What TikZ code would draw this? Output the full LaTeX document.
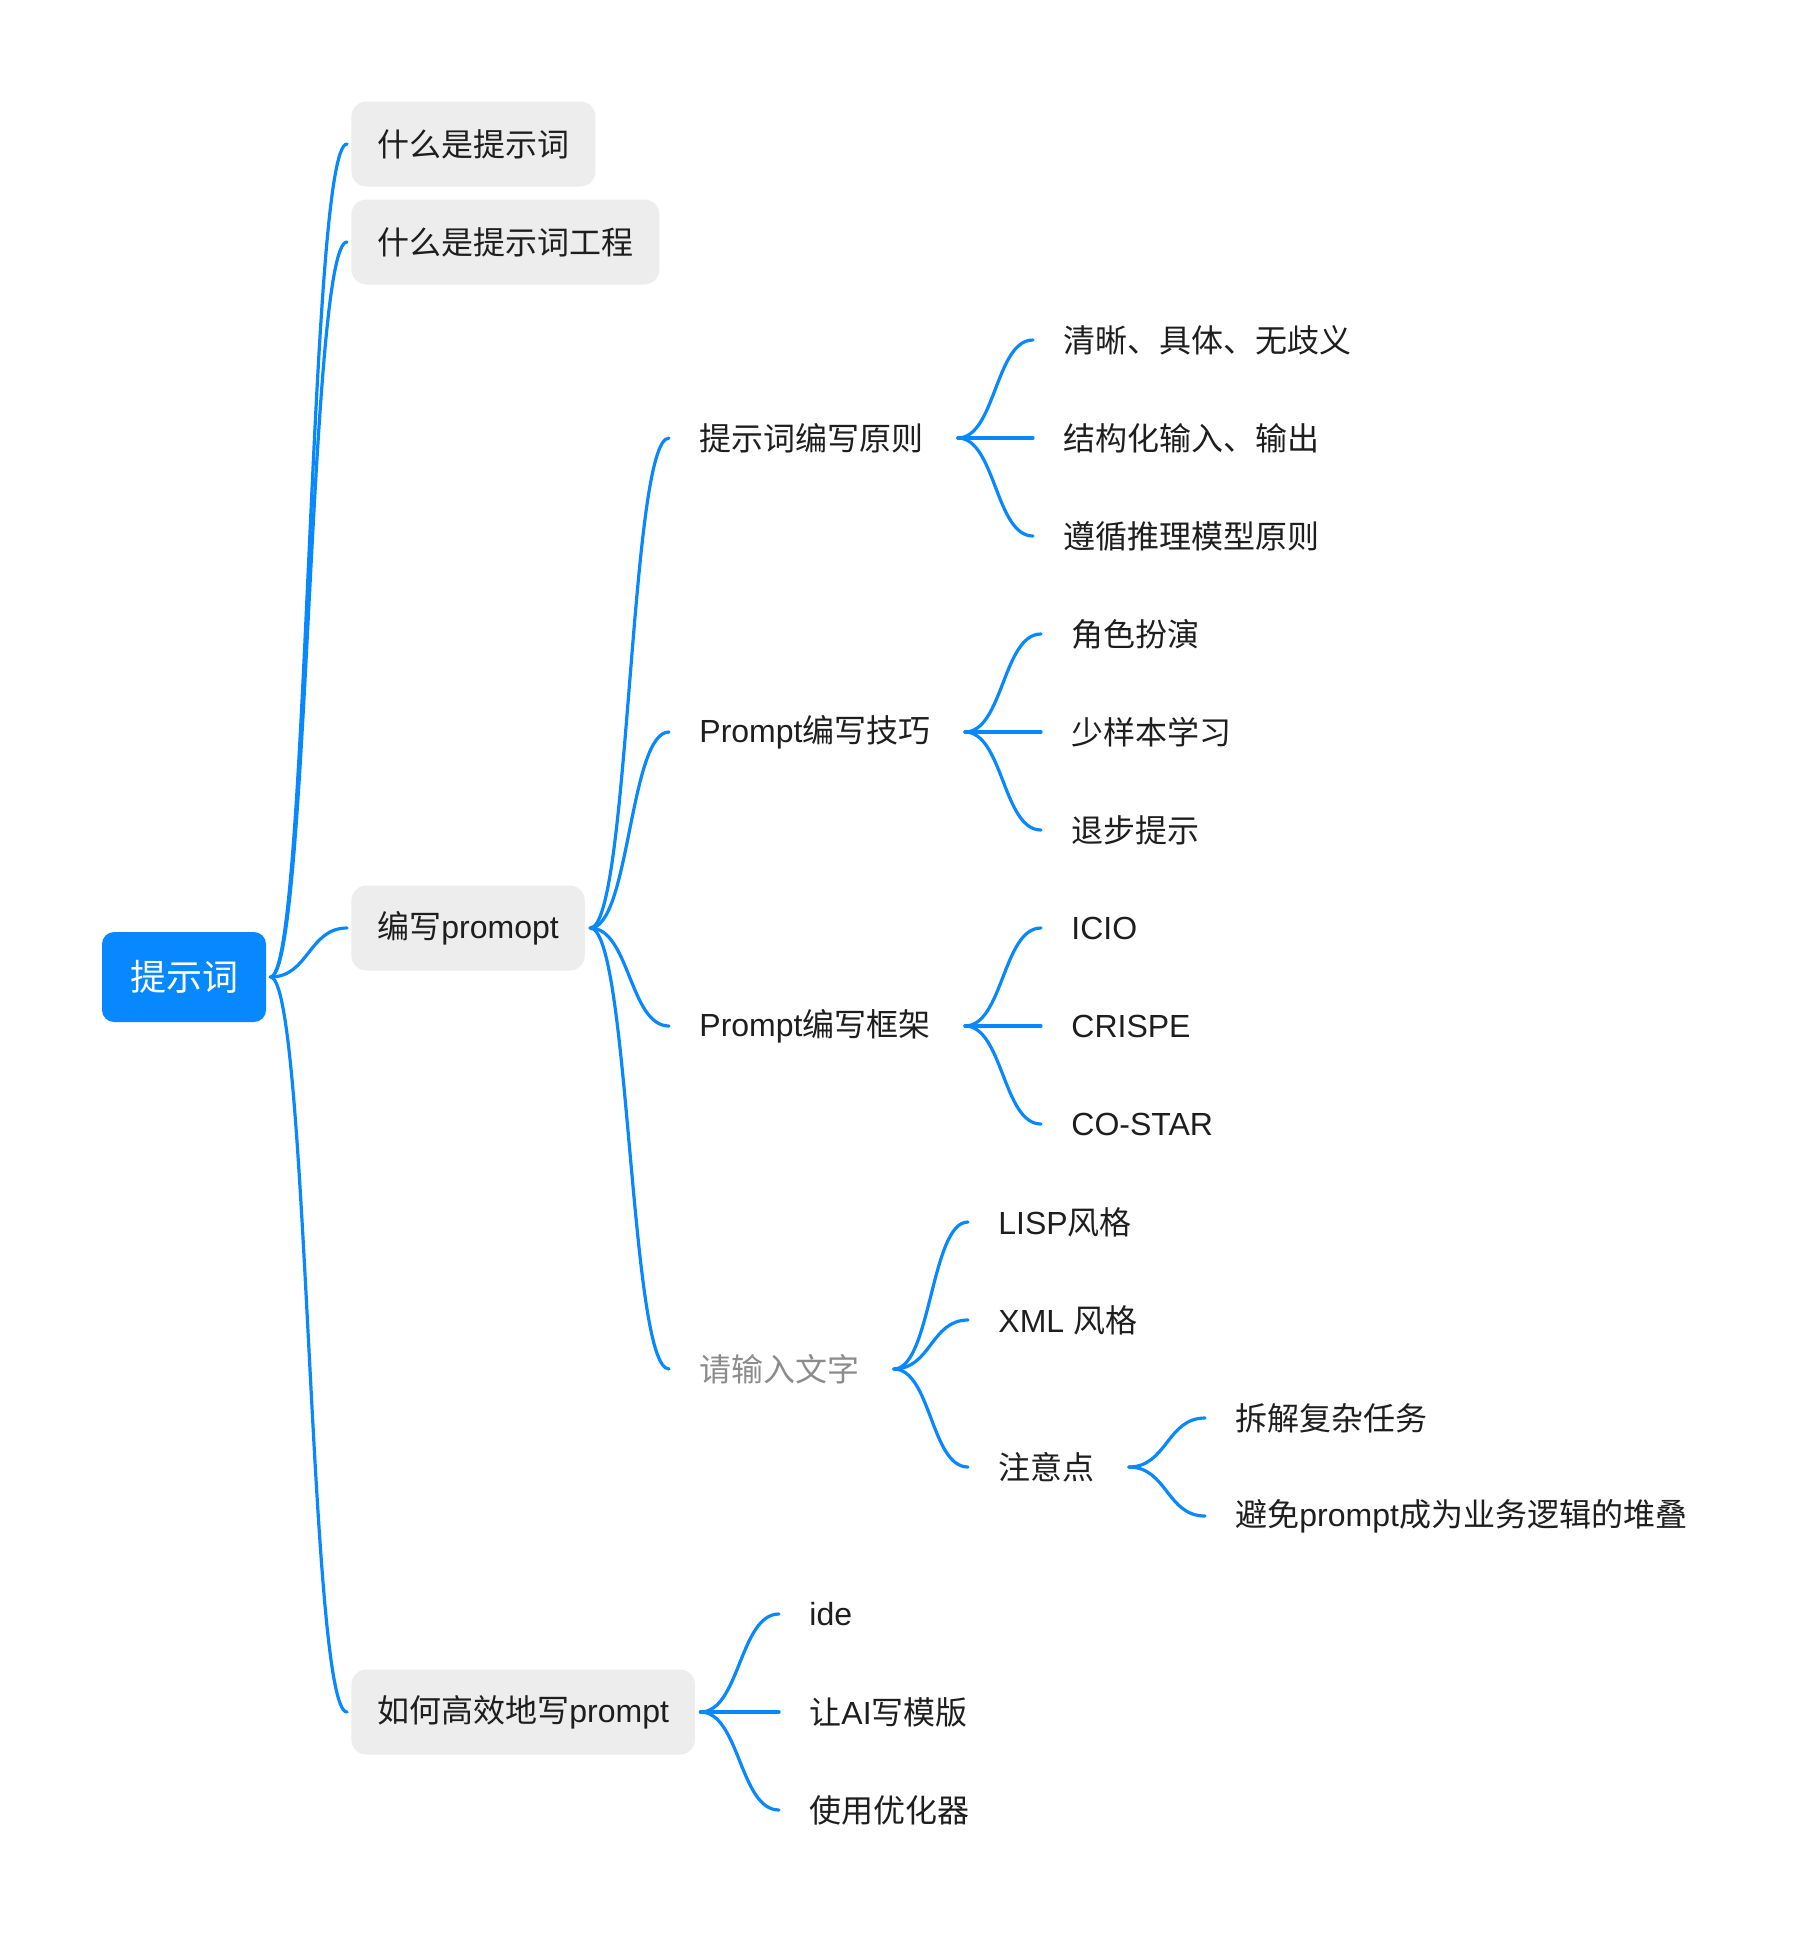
\documentclass[tikz,border=0pt]{standalone}
\usepackage{fontspec}
\setmainfont{Noto Sans CJK SC}
\newfontfamily\latn{Liberation Sans}
\usepackage{xcolor}
\usepackage{tikz}
\usetikzlibrary{calc}
\definecolor{mmblue}{RGB}{8,136,255}
\definecolor{mmgray}{RGB}{237,237,237}
\definecolor{mmtext}{RGB}{30,30,30}
\definecolor{mmhint}{RGB}{140,140,140}

\begin{document}
\begin{tikzpicture}[
    x=0.5pt, y=-0.5pt,
    every node/.style={font=\fontsize{16pt}{19pt}\selectfont, text=mmtext},
    leaf/.style={anchor=west, inner xsep=13pt, inner ysep=0pt, minimum height=42.5pt},
    topic/.style={leaf, fill=mmgray, rounded corners=7.5pt},
    rootbox/.style={fill=mmblue, rounded corners=6pt, minimum width=82pt, minimum height=45pt,
        font=\fontsize{18pt}{21pt}\selectfont, text=white},
    mmlink/.style={to path={let \p1=(\tikztostart), \p2=(\tikztotarget) in
        .. controls ({0.5*\x1+0.5*\x2},\y1) and ({0.5*\x1+0.5*\x2},\y2) .. (\tikztotarget)}},
    branch/.style={draw=mmblue, line width=1.6pt, line cap=round, mmlink}
]
\useasboundingbox (0,0) rectangle (1818,1956);

% root and first level
\node[rootbox] (root) at (184,977) {提示词};
\node[topic] (what) at (351,144) {什么是提示词};
\node[topic] (whateng) at (351,242) {什么是提示词工程};
\node[topic] (write) at (351,928) {编写{\latn promopt}};
\node[topic] (howfast) at (351,1712) {如何高效地写{\latn prompt}};

% second level
\node[leaf] (rule) at (673,438) {提示词编写原则};
\node[leaf] (skill) at (673,732) {{\latn Prompt}编写技巧};
\node[leaf] (frame) at (673,1026) {{\latn Prompt}编写框架};
\node[leaf, text=mmhint] (input) at (673,1369) {请输入文字};

% leaves
\node[leaf] (clear) at (1037,340) {清晰、具体、无歧义};
\node[leaf] (struct) at (1037,438) {结构化输入、输出};
\node[leaf] (reason) at (1037,536) {遵循推理模型原则};
\node[leaf] (role) at (1045,634) {角色扮演};
\node[leaf] (fewshot) at (1045,732) {少样本学习};
\node[leaf] (stepback) at (1045,830) {退步提示};
\node[leaf] (icio) at (1045,928) {\latn ICIO};
\node[leaf] (crispe) at (1045,1026) {\latn CRISPE};
\node[leaf] (costar) at (1045,1124) {\latn CO-STAR};
\node[leaf] (lisp) at (972,1222) {{\latn LISP}风格};
\node[leaf] (xml) at (972,1320) {{\latn XML }风格};
\node[leaf] (notes) at (972,1467) {注意点};
\node[leaf] (split) at (1209,1418) {拆解复杂任务};
\node[leaf] (avoid) at (1209,1516) {避免{\latn prompt}成为业务逻辑的堆叠};
\node[leaf] (ide) at (783,1614) {\latn ide};
\node[leaf] (aitpl) at (783,1712) {让{\latn AI}写模版};
\node[leaf] (optim) at (783,1810) {使用优化器};

% connectors
\foreach \c in {what,whateng,write,howfast}
    \draw[branch] ([xshift=2pt]root.east) to ([xshift=-2pt]\c.west);
\foreach \c in {rule,skill,frame,input}
    \draw[branch] ([xshift=2.5pt]write.east) to ([xshift=-2pt]\c.west);
\foreach \c in {clear,struct,reason}
    \draw[branch] ([xshift=4pt]rule.east) to ([xshift=-2pt]\c.west);
\foreach \c in {role,fewshot,stepback}
    \draw[branch] ([xshift=4pt]skill.east) to ([xshift=-2pt]\c.west);
\foreach \c in {icio,crispe,costar}
    \draw[branch] ([xshift=4pt]frame.east) to ([xshift=-2pt]\c.west);
\foreach \c in {lisp,xml,notes}
    \draw[branch] ([xshift=4pt]input.east) to ([xshift=-2pt]\c.west);
\foreach \c in {split,avoid}
    \draw[branch] ([xshift=4pt]notes.east) to ([xshift=-2pt]\c.west);
\foreach \c in {ide,aitpl,optim}
    \draw[branch] ([xshift=2.5pt]howfast.east) to ([xshift=-2pt]\c.west);
\end{tikzpicture}
\end{document}
